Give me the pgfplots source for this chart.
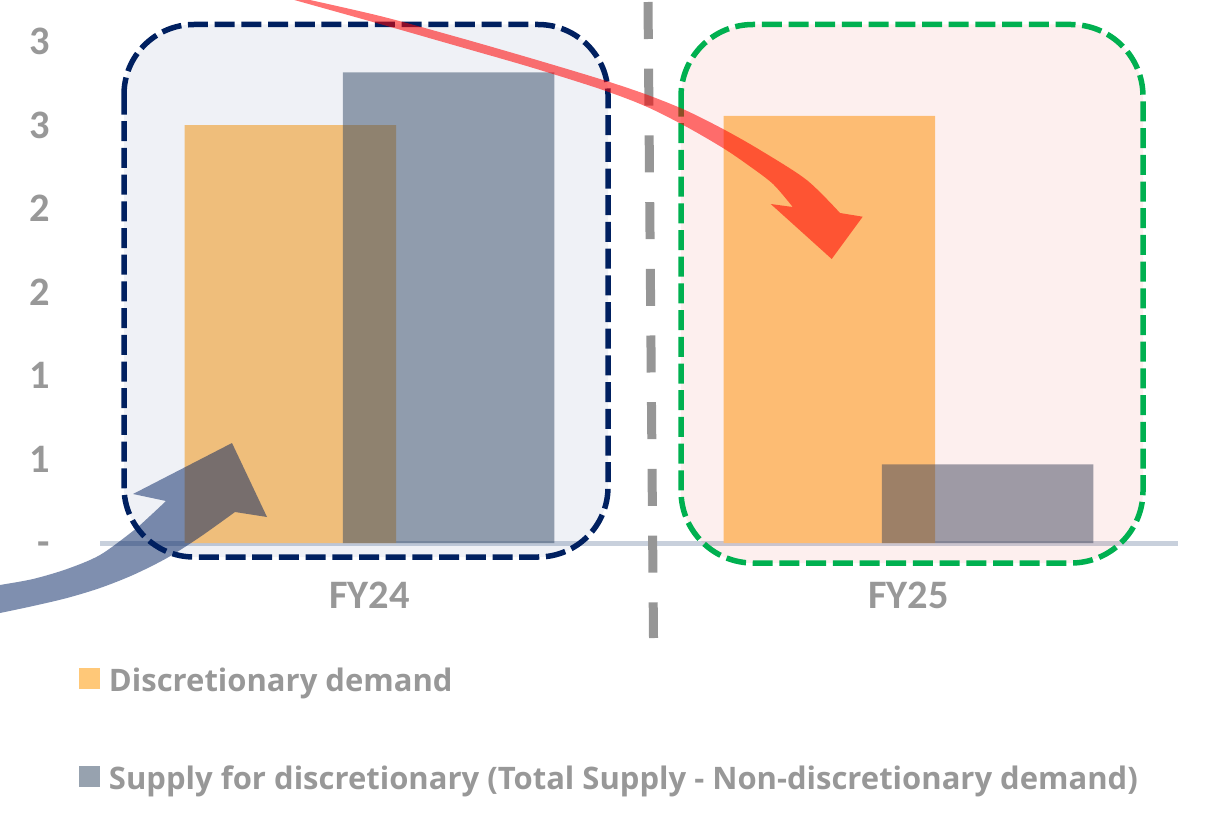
\documentclass[border=0pt]{standalone}
\usepackage{fontspec}
\setmainfont{Carlito}
\newfontfamily\legfont{Open Sans}
\usepackage{pgfplots}
\pgfplotsset{compat=1.18}
\definecolor{dorange}{RGB}{255,200,120}
\definecolor{sgray}{RGB}{47,69,95}
\definecolor{navy}{RGB}{0,32,96}
\definecolor{bgreen}{RGB}{0,176,80}
\definecolor{txtgray}{RGB}{152,152,152}
\definecolor{axgray}{RGB}{200,208,220}
\definecolor{blueov}{RGB}{78,100,155}
\definecolor{pinkov}{RGB}{233,77,67}
\definecolor{dashgray}{RGB}{150,150,150}

\begin{document}
\begin{tikzpicture}
\path[use as bounding box] (0,0) rectangle (606.5pt,-414.5pt);
\begin{axis}[
  at={(50pt,-271.5pt)}, anchor=south west,
  scale only axis, width=539pt, height=250.5pt,
  xmin=-0.5, xmax=1.5, ymin=0, ymax=3,
  axis x line=bottom, axis y line=left,
  x axis line style={draw=axgray, line width=2.5pt, -},
  y axis line style={draw=none},
  xtick={0,1}, xticklabels={FY24,FY25},
  ytick={0,0.5,1,1.5,2,2.5,3}, yticklabels={-,1,1,2,2,3,3},
  major tick length=0pt,
  tick style={draw=none},
  xticklabel style={font=\fontsize{20.2}{24}\selectfont\bfseries, text=txtgray, anchor=north, inner sep=0pt, yshift=-19.5pt},
  yticklabel style={font=\fontsize{20.2}{24}\selectfont\bfseries, text=txtgray, anchor=base east, inner sep=0pt, xshift=-25pt, yshift=-6.4pt},
  ybar, bar width=105.75pt,
  legend style={at={(-0.01948,-0.2495)}, anchor=north west, draw=none, fill=none, inner sep=0pt, outer sep=0pt,
    font=\legfont\fontsize{15.5}{18}\selectfont\bfseries, text=txtgray, row sep=33.9pt, column sep=4.5pt,
    nodes={inner sep=0pt, text height=11.07pt, text depth=3.5pt}},
  legend cell align=left,
  legend image code/.code={\fill[#1] (0pt,-2.5pt) rectangle (10.5pt,8pt);},
]
\addplot[fill=dorange, draw=none, bar shift=-39.6pt] coordinates {(0,2.503) (1,2.557)};
\addlegendentry{Discretionary demand}
\addplot[fill=sgray, fill opacity=0.5, draw=none, bar shift=39.6pt] coordinates {(0,2.818) (1,0.471)};
\addlegendentry{Supply for discretionary (Total Supply - Non-discretionary demand)}
\end{axis}
\begin{scope}[x=0.5pt, y=-0.5pt]
  % category boxes
  \fill[blueov, fill opacity=0.09, rounded corners=35pt] (124,24.5) rectangle (608,557);
  \draw[navy, line width=2.75pt, dash pattern=on 10pt off 3.35pt, rounded corners=35pt] (124,24.5) rectangle (608,557);
  \fill[pinkov, fill opacity=0.09, rounded corners=36pt] (681,24.5) rectangle (1143,563);
  \draw[bgreen, line width=2.75pt, dash pattern=on 10pt off 3.35pt, rounded corners=36pt] (681,24.5) rectangle (1143,563);
  % divider
  \draw[dashgray, line width=4.5pt, dash pattern=on 18.5pt off 14.85pt] (648,2) -- (653.5,638);
  % red arrow
  \fill[red, fill opacity=0.55]
    plot[smooth, tension=0.5] coordinates {(292,-4) (380,16) (457,37) (530,58) (600,79) (645,94) (685,110) (723,129) (760,150) (806.7,180) (840,213)}
    -- (862.7,216.7) -- (831.7,259) -- (770.7,204) -- (792.7,207)
    -- plot[smooth, tension=0.5] coordinates {(792.7,207) (773,184) (748,165) (723,148) (685,126) (645,106) (600,89) (530,67) (457,46) (380,24) (280,-4)}
    -- cycle;
  % blue arrow
  \fill[navy, fill opacity=0.5]
    plot[smooth, tension=0.5] coordinates {(-6,586) (0,585) (33,579) (67,569) (100,555) (133,531) (150,516) (166,501)}
    -- (133,494) -- (232,443) -- (267,517) -- (235,512)
    -- plot[smooth, tension=0.5] coordinates {(235,512) (200,537) (167,558) (133,575) (100,588) (67,598) (33,606) (0,613) (-6,614)}
    -- cycle;
\end{scope}
\end{tikzpicture}
\end{document}
